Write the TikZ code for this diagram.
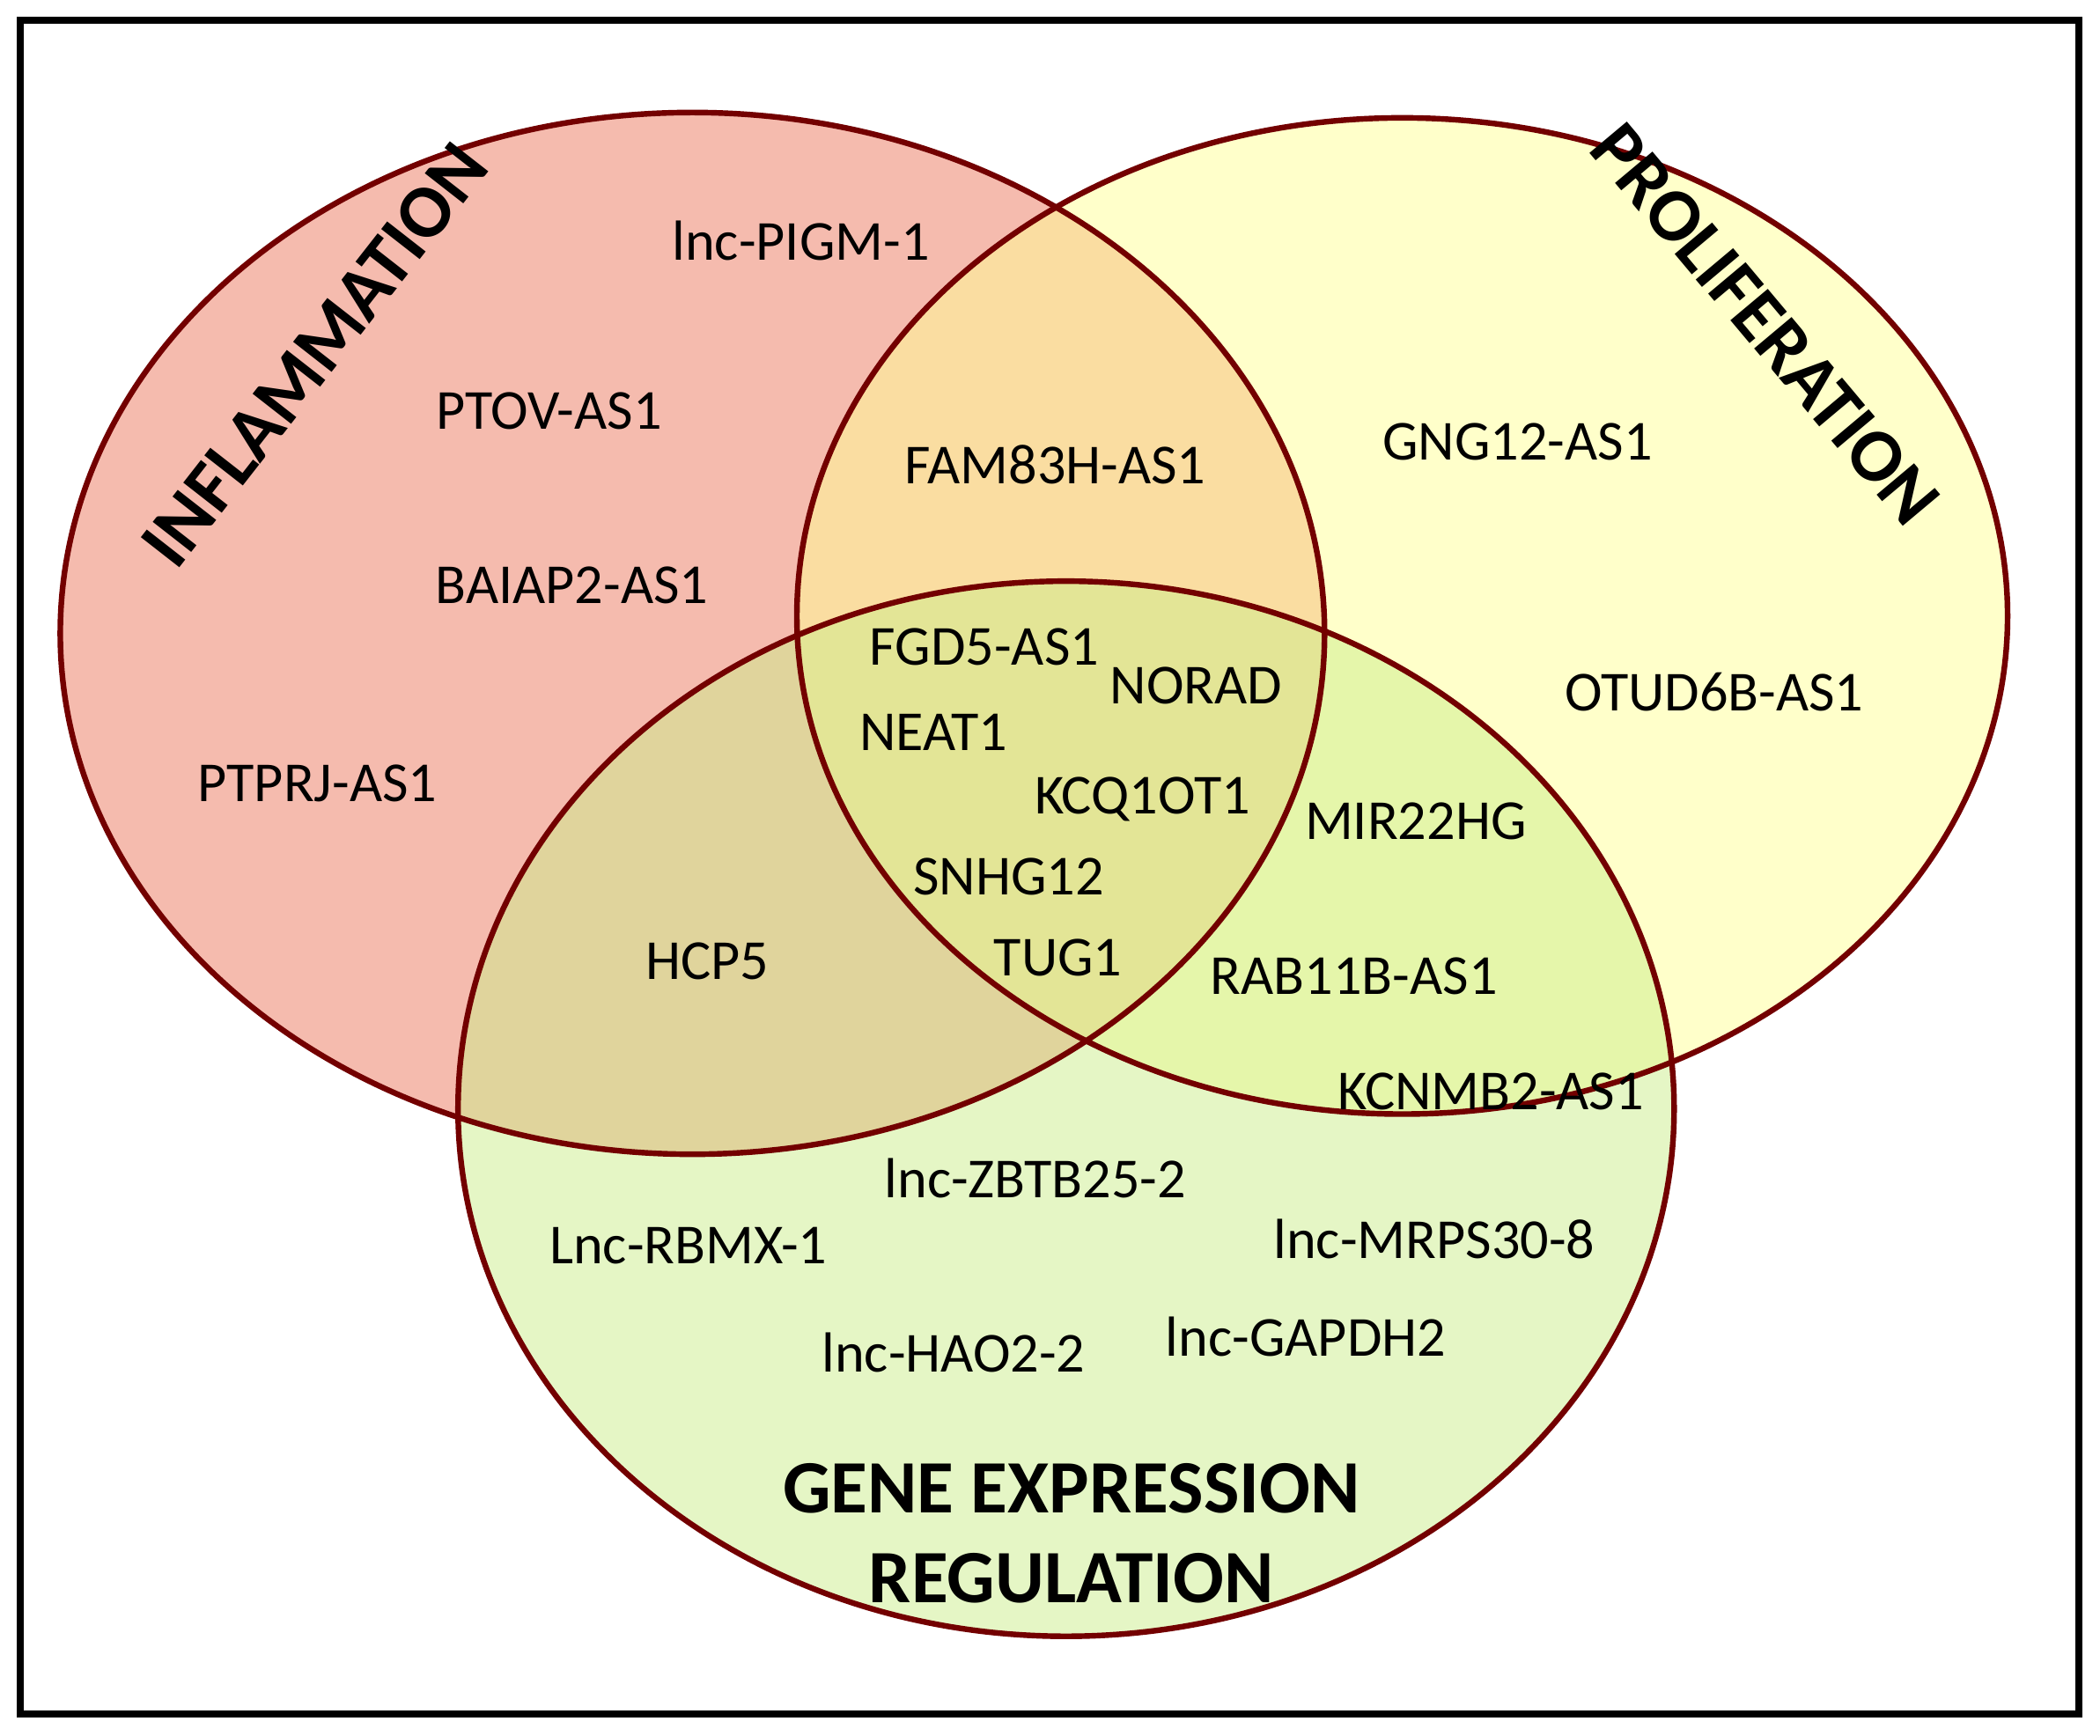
\documentclass[tikz,border=0pt]{standalone}
\usepackage{fontspec}
\setmainfont{Carlito}
\begin{document}
\begin{tikzpicture}[x=0.01cm,y=-0.01cm,
  lab/.style={font=\fontsize{12}{14}\selectfont},
  ttl/.style={font=\fontsize{16}{19}\selectfont\bfseries, align=center},
  set/.style={draw=red!45!black, line width=1.2pt, fill opacity=0.5}]
\useasboundingbox (0,0) rectangle (1568,1296);
\fill[white] (0,0) rectangle (1568,1296);
\draw[line width=1.5pt] (15,15) rectangle (1552,1280);
\fill[fill={rgb,255:red,236;green,120;blue,95}, fill opacity=0.5] (517,473) ellipse [x radius=472, y radius=389];
\fill[fill={rgb,255:red,255;green,255;blue,150}, fill opacity=0.5] (1047,460) ellipse [x radius=452, y radius=372];
\fill[fill={rgb,255:red,205;green,238;blue,140}, fill opacity=0.5] (796,828) ellipse [x radius=454, y radius=394];
\draw[red!45!black, line width=1.2pt] (517,473) ellipse [x radius=472, y radius=389];
\draw[red!45!black, line width=1.2pt] (1047,460) ellipse [x radius=452, y radius=372];
\draw[red!45!black, line width=1.2pt] (796,828) ellipse [x radius=454, y radius=394];
\node[ttl, rotate=52] (t1) at (235,265) {INFLAMMATION};
\node[ttl, rotate=-50] (t2) at (1318,242) {PROLIFERATION};
\node[ttl] (t3) at (800,1145) {GENE EXPRESSION\\REGULATION};
\node[lab] (n1) at (598,180) {lnc-PIGM-1};
\node[lab] (n2) at (410,307) {PTOV-AS1};
\node[lab] (n3) at (427,437) {BAIAP2-AS1};
\node[lab] (n4) at (237,585) {PTPRJ-AS1};
\node[lab] (n5) at (788,347) {FAM83H-AS1};
\node[lab] (n6) at (1133,330) {GNG12-AS1};
\node[lab] (n7) at (1280,517) {OTUD6B-AS1};
\node[lab] (n8) at (735,483) {FGD5-AS1};
\node[lab] (n9) at (893,512) {NORAD};
\node[lab] (n10) at (697,547) {NEAT1};
\node[lab] (n11) at (853,597) {KCQ1OT1};
\node[lab] (n12) at (1057,613) {MIR22HG};
\node[lab] (n13) at (753,655) {SNHG12};
\node[lab] (n14) at (528,718) {HCP5};
\node[lab] (n15) at (790,715) {TUG1};
\node[lab] (n16) at (1011,729) {RAB11B-AS1};
\node[lab] (n17) at (1113,815) {KCNMB2-AS1};
\node[lab] (n18) at (773,880) {lnc-ZBTB25-2};
\node[lab] (n19) at (514,930) {Lnc-RBMX-1};
\node[lab] (n20) at (1071,925) {lnc-MRPS30-8};
\node[lab] (n21) at (975,998) {lnc-GAPDH2};
\node[lab] (n22) at (712,1010) {lnc-HAO2-2};
\end{tikzpicture}
\end{document}
